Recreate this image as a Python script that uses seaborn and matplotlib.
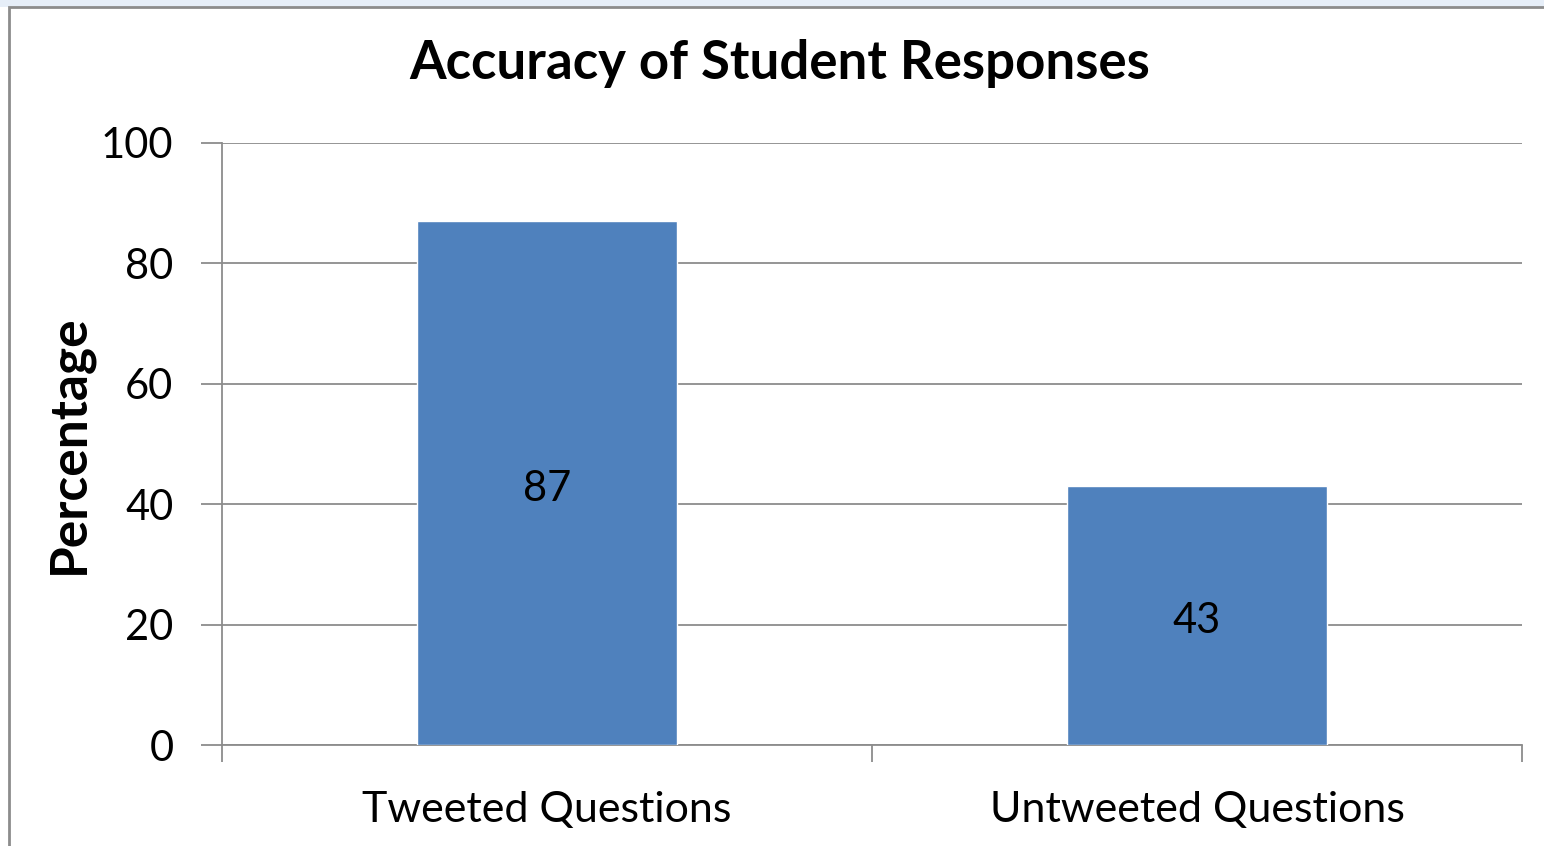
import matplotlib
matplotlib.use('Agg')
import numpy as np
import pandas as pd
import matplotlib.pyplot as plt
import seaborn as sns
from matplotlib.patches import Rectangle

# data
categories = ["Tweeted Questions", "Untweeted Questions"]
percentages = [87, 43]
y_ticks = [0, 20, 40, 60, 80, 100]

df = pd.DataFrame({"cat": categories, "pct": percentages})

sns.set_theme(style="white")
plt.rcParams['font.family'] = ['Lato', 'DejaVu Sans']
plt.rcParams['text.color'] = 'black'
plt.rcParams['axes.labelcolor'] = 'black'
plt.rcParams['xtick.color'] = 'black'
plt.rcParams['ytick.color'] = 'black'

fig = plt.figure(figsize=(15.44, 8.46), dpi=100)
ax = fig.add_axes([222 / 1544, 1 - 745 / 846, 1300 / 1544, 602 / 846])
ax.patch.set_alpha(0)

# outer frame like the office chart area
fig.patches.append(Rectangle((0, 1 - 7 / 846), 1, 7 / 846, transform=fig.transFigure,
                             facecolor='#e6eef8', edgecolor='none', zorder=-2))
fig.patches.append(Rectangle((9 / 1544, -0.1), 1.2, 1 - 7 / 846 + 0.1, transform=fig.transFigure,
                             facecolor='white', edgecolor='#8c8c8c', linewidth=2, zorder=-1))

sns.barplot(data=df, x="cat", y="pct", color='#4F81BD', saturation=1, width=0.4, ax=ax, zorder=3)

ax.set_xlim(-0.5, 1.5)
ax.set_ylim(0, 100)
ax.set_yticks(y_ticks)
ax.yaxis.grid(True, color='#8c8c8c', linewidth=1.3)
ax.set_axisbelow(True)
for s in ['top', 'right']:
    ax.spines[s].set_visible(False)
for s in ['left', 'bottom']:
    ax.spines[s].set_color('#8c8c8c')
    ax.spines[s].set_linewidth(1.3)

ax.tick_params(axis='y', length=15, width=1.3, color='#8c8c8c', labelsize=30, pad=20, left=True)
ax.tick_params(axis='x', which='major', length=0, labelsize=31, pad=33)
ax.set_xticks([-0.5, 0.5, 1.5], minor=True)
ax.tick_params(axis='x', which='minor', length=12, width=1.3, color='#8c8c8c', bottom=True)

ax.set_xlabel("")
ax.set_ylabel("Percentage", fontsize=37, fontweight='bold', labelpad=6)

for c in ax.containers:
    ax.bar_label(c, label_type='center', fontsize=30, padding=-4)

fig.text(780 / 1544, 1 - 64 / 846, "Accuracy of Student Responses", ha='center', va='center',
         fontsize=38, fontweight='bold')

fig.savefig("out.png", dpi=100)
